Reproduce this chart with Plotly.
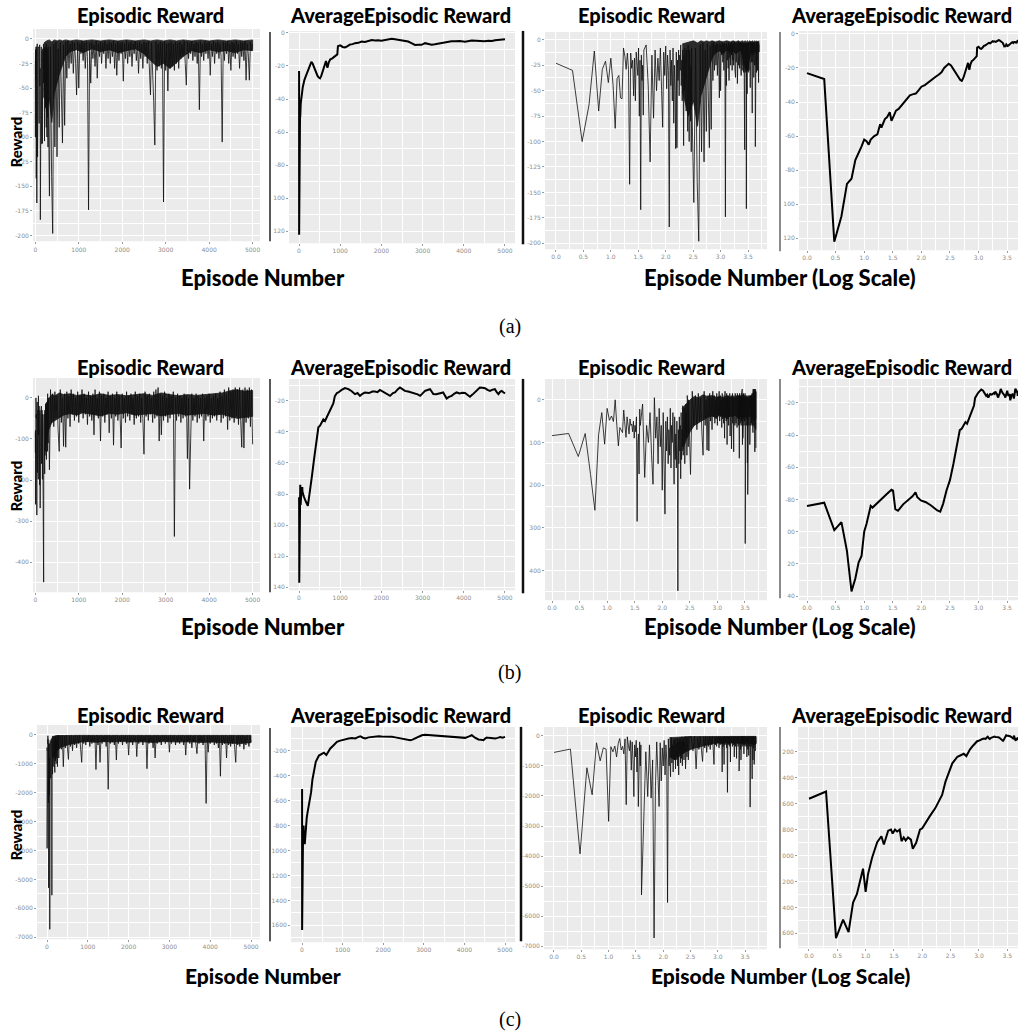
import numpy as np
import plotly.graph_objects as go

W, H = 1019, 1036

# ---------------- DATA ----------------
# Episode grids for the per-episode reward series
early_eps = np.arange(1, 41)          # episodes 1..40
mid_eps = np.arange(44, 301, 4)       # episodes 44..300
late_eps = np.arange(325, 5001, 25)   # episodes 325..5000

# (a) episodic reward
a_rew_early = [-23, -30, -100, -64, -11, -70, -29, -21, -42, -18,
               -45, -87, -38, -35, -57, -58, -8, -16, -29, -13,
               -29, -142, -13, -28, -20, -55, -18, -60, -12, -25,
               -35, -8, -75, -20, -167, -15, -40, -25, -74, -10]
a_rew_mid = [-5, -45, -120, -15, -77, -10, -50, -18, -40, -8,
             -55, -86, -12, -35, -6, -48, -15, -30, -184, -10,
             -45, -20, -60, -8, -82, -25, -50, -107, -12, -106,
             -20, -40, -10, -55, -15, -30, -5, -45, -20, -60,
             -10, -35, -104, -15, -50, -8, -40, -20, -70, -10,
             -45, -30, -90, -5, -60, -20, -100, -10, -50, -15,
             -80, -25, -110, -8, -60]
a_rew_late = [-160, -8, -140, -198, -5, -110, -3, -120, -10, -90,
              -4, -60, -106, -6, -88, -3, -40, -2, -30, -5,
              -25, -3, -35, -4, -20, -57, -3, -50, -5, -15,
              -2, -22, -4, -30, -3, -18, -174, -4, -45, -3,
              -20, -6, -28, -2, -40, -5, -18, -3, -25, -4,
              -15, -2, -30, -5, -20, -3, -25, -4, -18, -2,
              -30, -5, -37, -3, -22, -4, -15, -3, -43, -5,
              -20, -2, -25, -4, -18, -3, -28, -5, -15, -2,
              -22, -4, -35, -3, -20, -5, -30, -3, -18, -4,
              -25, -3, -32, -57, -4, -30, -65, -108, -3, -32,
              -5, -28, -3, -30, -4, -166, -3, -32, -5, -53,
              -4, -30, -3, -28, -5, -32, -3, -25, -4, -30,
              -3, -20, -5, -18, -2, -25, -47, -3, -20, -4,
              -15, -2, -22, -5, -18, -3, -25, -4, -72, -3,
              -18, -5, -22, -2, -15, -4, -20, -3, -37, -5,
              -18, -2, -25, -4, -15, -3, -20, -5, -18, -105,
              -3, -22, -4, -15, -2, -25, -5, -32, -3, -18,
              -4, -20, -2, -15, -5, -30, -3, -18, -4, -22,
              -2, -42, -5, -15, -42, -3, -12, -5]
# (a) dense core of the episodic reward band
a_band_ep = [200, 260, 320, 380, 440, 500, 560, 620, 700, 800, 950, 1100, 1300, 1500, 1700, 1900, 2100, 2300, 2500, 2650,
             2800, 2950, 3100, 3250, 3400, 3600, 3800, 4000, 4200, 4400, 4600, 4800, 5000]
a_band_hi = [-4, -2, -1, -3, -1, -2, -1, -2, -1, -2, -1, -2, -1, -2, -1, -2, -1, -2, -1, -2,
             -1, -2, -1, -2, -1, -2, -1, -2, -1, -2, -1, -2, -1]
a_band_lo = [-50, -75, -60, -85, -55, -45, -35, -28, -18, -13, -11, -14, -10, -13, -11, -14, -12, -10, -15, -22,
             -28, -25, -30, -24, -18, -12, -14, -11, -13, -12, -14, -11, -12]

# (a) average episodic reward
a_avg_ep = [1, 2, 3, 4, 5, 6, 7, 8, 9, 10, 11, 12, 13, 15, 17, 19, 20, 23, 25, 28,
            30, 33, 36, 40, 45, 50, 56, 63, 70, 80, 90, 100, 115, 130, 145, 160, 180, 200, 225, 250,
            275, 300, 330, 360, 390, 420, 450, 480, 510, 540, 570, 600, 630, 655, 670, 690, 720, 760, 800, 850,
            900, 930, 945, 1000, 1060, 1115, 1180, 1240, 1300, 1360, 1440, 1520, 1600, 1680, 1765, 1850, 1920, 2000, 2100, 2180,
            2250, 2330, 2420, 2490, 2570, 2650, 2730, 2815, 2900, 2975, 3060, 3140, 3220, 3300, 3380, 3460, 3540, 3620, 3700, 3800,
            3900, 4030, 4110, 4190, 4300, 4400, 4500, 4600, 4680, 4760, 4840, 4920, 5000]
a_avg_val = [-23, -26.5, -122, -107, -88, -85, -74, -70, -66, -62, -63, -65, -62, -60, -59, -53, -55, -50, -49, -46,
             -51, -48, -45, -44, -42, -40, -38, -36, -35.5, -35, -33, -31, -30, -28.5, -27.5, -26.5, -25, -24, -22.5, -20,
             -18.5, -17.5, -18.5, -20.5, -23, -24.5, -26, -27, -27.5, -26, -23.5, -21, -19, -17, -19, -21, -18, -16, -15.5, -14.5,
             -13.5, -13, -8, -7.5, -8.5, -8.8, -8, -7, -6.8, -6.2, -6, -5.2, -5.5, -4.8, -4.3, -4.6, -4.4, -4.7, -4.2, -3.9,
             -3.6, -3.8, -4.2, -4.6, -4.5, -5.2, -6.2, -7.3, -7.1, -7.2, -6.2, -6.8, -7.1, -6.9, -6.5, -6.4, -5.8, -5.3, -5, -5.1,
             -4.9, -5.3, -4.9, -4.6, -4.8, -4.9, -5.1, -4.7, -4.9, -4.4, -4.2, -4, -3.8]

# (b) episodic reward
b_rew_early = [-84, -79, -133, -79, -175, -259, -82, -30, -104, -20,
               -48, -38, -51, 0, -60, -108, -65, -70, -77, -24,
               -50, -88, -40, -70, -80, -45, -60, -57, -75, -50,
               -90, -60, -75, -40, -285, -100, -80, -174, -22, -60]
b_rew_mid = [-10, -182, -60, -100, -30, -130, -198, 5, -90, -40,
             -150, -20, -110, -60, -212, -30, -140, -268, -50, -120,
             -40, -150, -70, -130, -20, -160, -60, -100, -30, -170,
             -198, -40, -140, -80, -160, -50, -130, -448, -70, -150,
             -40, -120, -60, -185, -30, -140, -70, -110, -14, -130,
             -60, -100, -20, -150, -40, -120, -10, -90, -30, -130,
             10, -80, -20, -110, 0]
b_rew_late = [-175, 20, -60, 10, -70, 15, -50, 5, -80, -130,
              20, -60, 0, -118, 10, -120, 15, -50, 5, -70,
              20, -40, 10, -55, 0, -45, 15, -60, 5, -35,
              20, -50, 10, -40, 0, -65, 15, -45, 5, -55,
              10, -90, 20, -40, 0, -50, 15, -105, 5, -45,
              10, -60, 0, -40, 15, -85, 5, -50, 10, -115,
              0, -45, 15, -55, 5, -40, -122, 10, -50, 0,
              -60, 15, -45, 5, -55, 10, -40, 0, -65, 15,
              -50, 5, -45, 10, -60, 0, -50, -137, 15, -45,
              5, -55, 10, -40, 0, -60, 15, -50, 20, -45,
              25, -105, 10, -90, 5, -55, 15, -45, 0, -60,
              10, -50, 5, -40, 15, -337, 0, -55, 10, -45,
              5, -60, 0, -50, 10, -45, 5, -148, 0, -222,
              -100, 10, -55, 0, -45, 10, -60, 5, -50, 0,
              -45, 10, -105, 0, -55, 5, -45, 10, -60, 0,
              -50, 5, -45, 10, -55, 0, -40, 15, -60, 5,
              -50, 20, -45, 10, -77, 25, -55, 15, -50, 20,
              -60, 25, -45, 20, -65, 25, -55, -120, 20, -122,
              25, -60, 20, -50, 25, -70, 20, -113]
b_band_ep = [230, 270, 320, 380, 450, 550, 650, 800, 950, 1100, 1300, 1500, 1700, 1900, 2100, 2300, 2500, 2700, 2900, 3100,
             3300, 3500, 3700, 3900, 4100, 4300, 4500, 4650, 4800, 5000]
b_band_hi = [-20, -10, 0, 8, 5, 12, 8, 10, 6, 8, 5, 10, 6, 8, 5, 8, 10, 6, 12, 8,
             5, 8, 6, 8, 10, 12, 18, 20, 16, 18]
b_band_lo = [-120, -95, -75, -60, -55, -48, -42, -38, -42, -36, -40, -44, -38, -40, -36, -42, -40, -38, -44, -40,
             -38, -42, -40, -38, -42, -40, -46, -50, -48, -45]

# (b) average episodic reward
b_avg_ep = [1, 2, 3, 4, 5, 6, 7, 8, 9, 10, 11, 12, 13, 14, 17, 21, 26, 30, 32, 35,
            39, 48, 55, 63, 70, 79, 85, 98, 120, 148, 190, 214, 240, 275, 316, 363, 400, 436, 470, 510,
            550, 590, 630, 680, 728, 790, 833, 870, 920, 955, 1000, 1035, 1115, 1200, 1280, 1360, 1420, 1480, 1540, 1600,
            1700, 1780, 1845, 1905, 1965, 2030, 2090, 2150, 2210, 2280, 2330, 2400, 2450, 2510, 2570, 2650, 2735, 2820, 2880, 2940,
            3000, 3060, 3120, 3180, 3220, 3260, 3330, 3400, 3450, 3500, 3540, 3585, 3640, 3705, 3765, 3825, 3900, 3960, 4030, 4090,
            4150, 4210, 4270, 4330, 4390, 4450, 4515, 4575, 4635, 4700, 4755, 4800, 4840, 4880, 4920, 4960, 5000]
b_avg_val = [-84, -82, -99, -94, -112, -137, -129, -119, -115, -100, -95, -88, -84, -85, -82, -79, -76, -74, -74.5, -86,
             -87, -83, -81, -79.6, -78, -75.5, -78.6, -80.6, -81.7, -83.7, -86.8, -87.5, -82.7, -74.4, -68, -58, -50, -43.4, -37, -36,
             -34, -32, -33, -30, -27.5, -24, -21.7, -17, -15, -14.6, -13.5, -13, -11.8, -12.5, -13.8, -15.7, -15, -16.8, -15.5, -14.6,
             -15, -14, -14, -14.4, -13, -14, -14.6, -16, -16.8, -15, -14.6, -12.5, -11.4, -12.5, -13.6, -14, -14.6, -15.2, -15.8, -16.8,
             -15.5, -13.6, -13, -12.5, -14, -15.7, -15.8, -15.2, -15, -14.6, -16.5, -18.5, -17.5, -16.8, -15.5, -14.6, -15.2, -14.8, -15, -16,
             -17.4, -16, -14.6, -13, -11.4, -11.6, -11.9, -13, -13.6, -12.8, -12.5, -14.5, -15.7, -14.2, -13.6, -14.5, -15.3]

# (c) episodic reward
c_rew_early = [-550, -440, -3925, -1060, -1960, -230, -830, -400, -440, -2845,
               -360, -530, -340, -700, -250, -90, -470, -350, -600, -100,
               -2290, -30, -310, -500, -150, -1140, -200, -800, -2020, -300,
               -700, -150, -1200, -400, -2350, -600, -200, -1000, -300, -5290]
c_rew_mid = [-2620, -530, -2020, -300, -2070, -800, -6725, -1690, -200, -1200,
             -2350, -230, -1500, -400, -1000, -150, -1300, -300, -800, -5545,
             -100, -1000, -400, -1360, -50, -900, -300, -1200, -150, -800,
             -80, -1100, -250, -700, -60, -1000, -200, -1300, -100, -600,
             -50, -900, -200, -750, -30, -1000, -150, -600, -40, -800,
             -200, -500, -20, -1100, -100, -600, -30, -700, -150, -500,
             -20, -800, -100, -400, -30]
c_rew_late = [-30, -500, -20, -1100, -40, -450, -20, -600, -850, -30,
              -400, -20, -550, -40, -350, -20, -450, -30, -300, -20,
              -400, -950, -30, -300, -20, -350, -40, -250, -20, -400,
              -30, -300, -20, -250, -40, -1200, -20, -350, -30, -950,
              -20, -300, -40, -250, -20, -400, -30, -1880, -20, -300,
              -40, -250, -20, -350, -30, -870, -20, -300, -40, -250,
              -20, -350, -30, -200, -20, -300, -40, -700, -20, -250,
              -30, -350, -20, -200, -40, -750, -20, -300, -30, -250,
              -20, -350, -40, -200, -20, -1170, -30, -300, -20, -250,
              -40, -450, -20, -800, -30, -300, -20, -250, -40, -350,
              -20, -200, -30, -300, -20, -250, -40, -600, -20, -300,
              -30, -200, -20, -350, -40, -250, -20, -300, -30, -200,
              -20, -350, -40, -700, -20, -250, -30, -300, -20, -450,
              -40, -250, -20, -350, -650, -30, -300, -20, -250, -40,
              -350, -20, -300, -2370, -30, -600, -20, -300, -40, -250,
              -20, -350, -30, -300, -20, -450, -40, -1430, -20, -350,
              -30, -300, -20, -800, -40, -350, -20, -400, -30, -300,
              -20, -450, -950, -40, -350, -20, -400, -30, -300, -20,
              -500, -40, -350, -20, -300, -400, -30, -250]
c_band_ep = [130, 170, 220, 280, 350, 450, 550, 700, 850, 1000, 1200, 1400, 1600, 1800, 2000, 2300, 2600, 2900, 3200, 3500,
             3800, 4100, 4400, 4700, 5000]
c_band_hi = [-60, -40, -30, -25, -20, -20, -15, -15, -15, -15, -15, -15, -15, -15, -15, -15, -15, -15, -15, -15,
             -15, -15, -15, -15, -15]
c_band_lo = [-700, -800, -600, -500, -420, -380, -330, -280, -250, -230, -260, -230, -250, -220, -250, -240, -260, -230, -250, -240,
             -260, -250, -280, -300, -270]

# (c) average episodic reward
c_avg_ep = [1, 2, 3, 4, 5, 6, 7, 9, 10, 11, 13, 16, 19, 21, 25, 28, 30, 33, 36, 40,
            43, 47, 51, 56, 63, 68, 78, 91, 100, 117, 135, 170, 224, 257, 295, 339, 417, 490, 540, 600,
            640, 697, 779, 861, 920, 984, 1060, 1148, 1230, 1312, 1380, 1435, 1500, 1558, 1640, 1722, 1800, 1886, 1960, 2050,
            2130, 2214, 2300, 2380, 2460, 2560, 2665, 2720, 2788, 2870, 2952, 3030, 3110, 3198, 3280, 3362, 3450, 3550, 3649, 3750,
            3854, 3940, 4018, 4100, 4182, 4260, 4346, 4410, 4469, 4510, 4551, 4600, 4680, 4756, 4820, 4880, 4940, 5000]
c_avg_val = [-562, -506, -1637, -1494, -1591, -1362, -1298, -1101, -1280, -1145, -1017, -897, -851, -915, -808, -800, -830, -800, -815, -800,
             -889, -860, -884, -860, -877, -948, -902, -800, -790, -736, -698, -634, -532, -430, -366, -289, -238, -226, -215, -233,
             -210, -181, -155, -128, -120, -115, -105, -101, -98, -101, -90, -83, -95, -101, -92, -88, -86, -83, -85, -84,
             -86, -88, -92, -97, -101, -108, -115, -110, -101, -88, -75, -72, -74, -75, -73, -75, -78, -80, -83, -86,
             -88, -92, -96, -86, -75, -95, -109, -112, -115, -102, -93, -96, -99, -101, -96, -90, -95, -88]

# Tick labels (as they appear in the cropped composite)
a_lin_yt = [0, -25, -50, -75, -100, -125, -150, -175, -200]
a_lin_yl = ["0", "-25", "-50", "-75", "-100", "-125", "-150", "-175", "-200"]
a_avg_yt = [0, -20, -40, -60, -80, -100, -120]
a_avg_yl = ["0", "-20", "-40", "-60", "-80", "100", "120"]
b_lin_yt = [0, -100, -200, -300, -400]
b_lin_yl = ["0", "-100", "-200", "-300", "-400"]
b_log_yl = ["0", "100", "200", "300", "400"]
b_avg_yt = [-20, -40, -60, -80, -100, -120, -140]
b_avg_yl = ["-20", "-40", "-60", "-80", "100", "120", "140"]
b_avg_log_yl = ["-20", "-40", "-60", "-80", "00", "20", "40"]
c_lin_yt = [0, -1000, -2000, -3000, -4000, -5000, -6000, -7000]
c_lin_yl = ["0", "-1000", "-2000", "-3000", "-4000", "-5000", "-6000", "-7000"]
c_avg_yt = [-200, -400, -600, -800, -1000, -1200, -1400, -1600]
c_avg_yl = ["-200", "-400", "-600", "-800", "1000", "1200", "1400", "1600"]
c_avg_log_yl = ["200", "400", "600", "800", "000", "200", "400", "600"]

# ---------------- FIGURE ----------------
def series(early, mid, late):
    eps = np.concatenate([early_eps[:len(early)], mid_eps[:len(mid)], late_eps[:len(late)]])
    vals = np.array(list(early) + list(mid) + list(late), dtype=float)
    n = min(len(eps), len(vals))
    return eps[:n].astype(float), vals[:n]

def band(ep, hi, lo):
    n = min(len(ep), len(hi), len(lo))
    return (np.array(ep[:n], float), np.array(hi[:n], float), np.array(lo[:n], float))

a_ep, a_rw = series(a_rew_early, a_rew_mid, a_rew_late)
b_ep, b_rw = series(b_rew_early, b_rew_mid, b_rew_late)
c_ep, c_rw = series(c_rew_early, c_rew_mid, c_rew_late)
a_band = band(a_band_ep, a_band_hi, a_band_lo)
b_band = band(b_band_ep, b_band_hi, b_band_lo)
c_band = band(c_band_ep, c_band_hi, c_band_lo)

panels = [
    # row (a)
    dict(box=(33, 260, 27, 240), xr=[-53, 5170], yr=[-206, 10.2], log=False,
         x=a_ep, y=a_rw, band=a_band, kind="ep", yt=a_lin_yt, yl=a_lin_yl, ym=12.5),
    dict(box=(289, 515, 29, 242), xr=[-243, 5243], yr=[-127.2, 1.2], log=False,
         x=np.array(a_avg_ep, float), y=np.array(a_avg_val, float), kind="avg", yt=a_avg_yt, yl=a_avg_yl, ym=10),
    dict(box=(545, 767, 30, 248), xr=[-0.2, 3.846], yr=[-205.9, 7.8], log=True,
         x=a_ep, y=a_rw, band=a_band, kind="ep", yt=a_lin_yt, yl=a_lin_yl, ym=12.5),
    dict(box=(799, 1018, 29, 249), xr=[-0.14, 3.69], yr=[-127, 1.76], log=True,
         x=np.array(a_avg_ep, float), y=np.array(a_avg_val, float), kind="avg", yt=a_avg_yt, yl=a_avg_yl, ym=10),
    # row (b)
    dict(box=(33, 260, 377, 592), xr=[-53, 5170], yr=[-472.7, 48.5], log=False,
         x=b_ep, y=b_rw, band=b_band, kind="ep", yt=b_lin_yt, yl=b_lin_yl, ym=50),
    dict(box=(289, 515, 378, 590), xr=[-243, 5243], yr=[-141.9, -5.9], log=False,
         x=np.array(b_avg_ep, float), y=np.array(b_avg_val, float), kind="avg", yt=b_avg_yt, yl=b_avg_yl, ym=10),
    dict(box=(545, 767, 378, 600), xr=[-0.127, 3.9], yr=[-470, 49], log=True,
         x=b_ep, y=b_rw, band=b_band, kind="ep", yt=b_lin_yt, yl=b_log_yl, ym=50),
    dict(box=(799, 1018, 378, 600), xr=[-0.14, 3.69], yr=[-142.5, -5.2], log=True,
         x=np.array(b_avg_ep, float), y=np.array(b_avg_val, float), kind="avg", yt=b_avg_yt, yl=b_avg_log_yl, ym=10),
    # row (c)
    dict(box=(37, 260, 725, 940), xr=[-245, 5220], yr=[-7069, 345], log=False,
         x=c_ep, y=c_rw, band=c_band, kind="ep", yt=c_lin_yt, yl=c_lin_yl, ym=500),
    dict(box=(291, 515, 727, 943), xr=[-271, 5246], yr=[-1736, -8], log=False,
         x=np.array(c_avg_ep, float), y=np.array(c_avg_val, float), kind="avg", yt=c_avg_yt, yl=c_avg_yl, ym=100),
    dict(box=(544, 767, 727, 950), xr=[-0.183, 3.9], yr=[-7100, 299], log=True,
         x=c_ep, y=c_rw, band=c_band, kind="ep", yt=c_lin_yt, yl=c_lin_yl, ym=500),
    dict(box=(798, 1018, 727, 949), xr=[-0.194, 3.69], yr=[-1715, -7.7], log=True,
         x=np.array(c_avg_ep, float), y=np.array(c_avg_val, float), kind="avg", yt=c_avg_yt, yl=c_avg_log_yl, ym=100),
]

fig = go.Figure()
tickfont = dict(family="DejaVu Sans", size=6, color="#8c8c8c")

for i, p in enumerate(panels, start=1):
    l, r, t, b = p["box"]
    sfx = "" if i == 1 else str(i)
    tx = (lambda v: np.log10(v)) if p["log"] else (lambda v: v)
    if p["kind"] == "ep":
        bep, bhi, blo = p["band"]
        bx = tx(bep)
        fig.add_trace(go.Scatter(x=np.concatenate([bx, bx[::-1]]),
                                 y=np.concatenate([bhi, blo[::-1]]),
                                 mode="lines", fill="toself", fillcolor="rgba(22,22,22,0.9)",
                                 line=dict(width=0.8, color="rgba(22,22,22,0.9)"),
                                 xaxis="x" + sfx, yaxis="y" + sfx, showlegend=False, hoverinfo="skip"))
        line = dict(color="rgba(15,15,15,0.8)", width=1.0)
    else:
        line = dict(color="#000000", width=2)
    fig.add_trace(go.Scatter(x=tx(p["x"]), y=p["y"], mode="lines", line=line,
                             xaxis="x" + sfx, yaxis="y" + sfx, showlegend=False,
                             hoverinfo="skip"))
    if p["log"]:
        xa = dict(tickmode="array", tickvals=[0, 0.5, 1, 1.5, 2, 2.5, 3, 3.5],
                  ticktext=["0.0", "0.5", "1.0", "1.5", "2.0", "2.5", "3.0", "3.5"],
                  minor=dict(tickmode="linear", tick0=0, dtick=0.25, showgrid=True,
                             gridcolor="white", gridwidth=0.5, ticks=""))
    else:
        xa = dict(tickmode="array", tickvals=[0, 1000, 2000, 3000, 4000, 5000],
                  ticktext=["0", "1000", "2000", "3000", "4000", "5000"],
                  minor=dict(tickmode="linear", tick0=0, dtick=500, showgrid=True,
                             gridcolor="white", gridwidth=0.5, ticks=""))
    xa.update(domain=[l / W, r / W], range=p["xr"], anchor="y" + sfx,
              showgrid=True, gridcolor="white", gridwidth=1, zeroline=False,
              showline=False, ticks="outside", ticklen=2, tickcolor="#9a9a9a",
              tickfont=tickfont, fixedrange=True)
    ya = dict(domain=[1 - b / H, 1 - t / H], range=p["yr"], anchor="x" + sfx,
              tickmode="array", tickvals=p["yt"], ticktext=p["yl"],
              minor=dict(tickmode="linear", tick0=0, dtick=p["ym"], showgrid=True,
                         gridcolor="white", gridwidth=0.5, ticks=""),
              showgrid=True, gridcolor="white", gridwidth=1, zeroline=False,
              showline=False, ticks="outside", ticklen=2, tickcolor="#9a9a9a",
              tickfont=tickfont, fixedrange=True)
    fig.update_layout(**{"xaxis" + sfx: xa, "yaxis" + sfx: ya})
    fig.add_shape(type="rect", xref="x" + sfx + " domain", yref="y" + sfx + " domain",
                  x0=0, x1=1, y0=0, y1=1, fillcolor="#ebebeb", line_width=0, layer="below")

# separator bars of the composite
seps = [(270, 30, 240, 1.5, "#222"), (523, 29, 243, 2.5, "#111"), (780, 30, 250, 1.5, "#666"),
        (270, 378, 592, 1.5, "#222"), (523, 378, 593, 2.5, "#111"), (780, 378, 598, 1.5, "#666"),
        (270, 728, 942, 1.5, "#222"), (521, 727, 942, 2.5, "#111"), (780, 727, 949, 1.5, "#666")]
for x, y0, y1, w, c in seps:
    fig.add_shape(type="line", xref="paper", yref="paper", x0=x / W, x1=x / W,
                  y0=1 - y0 / H, y1=1 - y1 / H, line=dict(color=c, width=w))

anns = []
def ann(text, x, y, size, family="Lato", angle=0, color="#000", weight=900):
    anns.append(dict(text=text, x=x / W, y=1 - y / H, xref="paper", yref="paper",
                     xanchor="center", yanchor="middle", showarrow=False, textangle=angle,
                     font=dict(family=family, size=size, color=color, weight=weight)))

for ty in (13, 366, 715):
    ann("Episodic Reward", 150, ty, 20)
    ann("AverageEpisodic Reward", 400, ty, 20)
    ann("Episodic Reward", 651, ty, 20)
    ann("AverageEpisodic Reward", 901, ty, 20)
for ly, fs in ((276, 22), (626, 22), (976, 21)):
    ann("Episode Number", 263, ly, fs)
    ann("Episode Number (Log Scale)", 780, ly, fs)
for tag, ty in (("(a)", 325), ("(b)", 672), ("(c)", 1020)):
    ann(tag, 510, ty, 20, family="Liberation Serif", weight=400)
for ry in (140, 485, 835):
    ann("Reward", 16, ry, 15, angle=-90)

fig.update_layout(width=W, height=H, margin=dict(l=0, r=0, t=0, b=0),
                  paper_bgcolor="white", plot_bgcolor="rgba(0,0,0,0)",
                  annotations=anns, showlegend=False)

fig.write_html("out.html")
